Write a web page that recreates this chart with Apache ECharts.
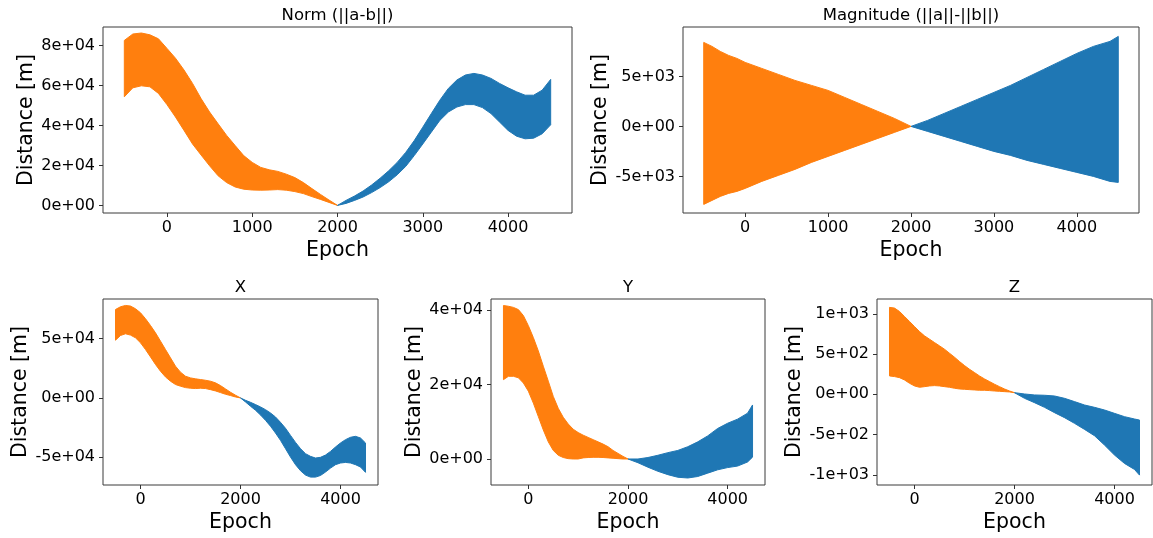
<!DOCTYPE html>
<html>
<head>
<meta charset="utf-8">
<script src="https://cdn.jsdelivr.net/npm/echarts@6/dist/echarts.min.js"></script>
<style>
  html, body { margin: 0; padding: 0; background: #fff; }
  #chart { width: 1153px; height: 538px; }
</style>
</head>
<body>
<div id="chart"></div>
<script>
// Difference between two ephemerides over epochs -500 .. 4500.
// Each quantity oscillates quickly, so it is drawn as an envelope band
// (upper / lower extent) for the past (orange) and future (blue) halves.

// ---- Norm (||a-b||) ----
const normEpochPast   = [-500,-400,-300,-200,-100,0,100,200,300,400,500,600,700,800,900,1000,1100,1200,1300,1400,1500,1600,1700,1800,1900,2000];
const normUpperPast   = [82500,85700,86200,85300,83300,78500,73600,67700,61000,53400,46700,40800,35000,29900,24900,21500,19000,17800,17000,15600,13900,11400,8400,5500,2700,0];
const normLowerPast   = [54300,58800,59800,59300,56000,50400,44200,37500,30700,25200,19800,14800,11400,9200,8100,7700,7600,7700,7900,7600,6900,5900,4400,3000,1500,0];
const normEpochFuture = [2000,2100,2200,2300,2400,2500,2600,2700,2800,2900,3000,3100,3200,3300,3400,3500,3600,3700,3800,3900,4000,4100,4200,4300,4400,4500];
const normUpperFuture = [0,2500,4700,7200,10200,13600,17300,21500,26500,32400,39100,45900,52600,58500,62700,65200,66000,65200,63500,61000,58800,56800,55100,55100,57600,63000];
const normLowerFuture = [0,1000,2500,4200,6400,8900,11800,15300,19500,24900,30700,36600,42500,46700,49200,50400,50400,48900,45900,41700,37500,34600,33300,33600,35800,40300];

// ---- Magnitude (||a||-||b||) ----
const magEpochPast   = [-500,-400,-300,-200,-100,0,200,400,600,800,1000,1200,1400,1600,1800,2000];
const magUpperPast   = [8400,8000,7500,7100,6800,6400,5800,5200,4600,4100,3600,2900,2200,1500,800,0];
const magLowerPast   = [-7800,-7400,-7000,-6700,-6500,-6200,-5500,-4900,-4300,-3600,-3000,-2400,-1800,-1200,-600,0];
const magEpochFuture = [2000,2200,2400,2600,2800,3000,3200,3400,3600,3800,4000,4200,4400,4500];
const magUpperFuture = [0,600,1300,2000,2700,3400,4100,4900,5700,6500,7300,8000,8500,9000];
const magLowerFuture = [0,-500,-1000,-1500,-2000,-2500,-2900,-3400,-3800,-4200,-4600,-5000,-5500,-5600];

// ---- X ----
const xEpochPast   = [-500,-400,-300,-200,-100,0,100,200,300,400,500,600,700,800,900,1000,1100,1200,1300,1400,1500,1600,1700,1800,1900,2000];
const xUpperPast   = [74600,76900,78000,77500,75200,71800,66800,61100,54900,47900,40800,33800,26800,21700,18300,16900,16100,15500,14900,14100,12700,10400,7600,4800,2300,0];
const xLowerPast   = [48700,52700,54100,53000,50700,46500,40800,34600,28200,22500,17700,14100,11300,9900,8700,8200,7900,8200,7900,7000,5900,4500,3100,2000,800,0];
const xEpochFuture = [2000,2100,2200,2300,2400,2500,2600,2700,2800,2900,3000,3100,3200,3300,3400,3500,3600,3700,3800,3900,4000,4100,4200,4300,4400,4500];
const xUpperFuture = [0,-2000,-3700,-5600,-7600,-9900,-12700,-16100,-20600,-25600,-31600,-37500,-42800,-47000,-49300,-50700,-50100,-48200,-45100,-41400,-38000,-35200,-33200,-32400,-33800,-38000];
const xLowerFuture = [0,-3400,-7000,-10400,-14400,-18900,-23900,-29600,-35800,-42800,-49900,-56300,-61400,-65100,-66800,-66800,-65400,-62500,-59200,-56300,-54900,-54400,-54900,-56300,-58300,-62800];

// ---- Y ----
const yEpochPast   = [-500,-400,-300,-200,-100,0,100,200,300,400,500,600,700,800,900,1000,1100,1200,1300,1400,1500,1600,1700,1800,1900,2000];
const yUpperPast   = [41200,41000,40700,40100,38500,35800,32600,29000,24900,20900,16800,13600,11200,9400,8000,7100,6400,5800,5200,4600,4000,3300,2300,1500,700,0];
const yLowerPast   = [21300,22200,22200,21800,20400,18200,15000,11400,7800,4600,2300,1000,400,100,0,0,300,400,450,450,400,300,200,100,0,0];
const yEpochFuture = [2000,2200,2400,2600,2800,3000,3200,3400,3600,3800,4000,4200,4400,4500];
const yUpperFuture = [0,0,400,1000,1700,2300,3300,4600,6200,8200,9600,10700,12300,14500];
const yLowerFuture = [0,-1000,-2200,-3300,-4200,-4900,-5100,-4700,-3800,-2900,-2300,-1900,-800,500];

// ---- Z ----
const zEpochPast   = [-500,-400,-300,-200,-100,0,100,200,300,400,500,600,700,800,900,1000,1100,1200,1300,1400,1500,1600,1700,1800,1900,2000];
const zUpperPast   = [1080,1071,1029,967,905,842,780,726,685,643,602,560,510,461,407,357,311,270,228,191,158,125,95,66,41,20];
const zLowerPast   = [228,220,207,178,137,104,87,95,104,108,104,95,87,75,66,62,58,54,50,50,46,41,37,33,29,20];
const zEpochFuture = [2000,2200,2400,2600,2800,3000,3200,3400,3600,3800,4000,4200,4400,4500];
const zUpperFuture = [20,4,-8,-12,-21,-50,-91,-133,-162,-195,-237,-278,-307,-320];
const zLowerFuture = [20,-50,-104,-162,-228,-290,-361,-436,-515,-631,-755,-859,-934,-1004];

// ---- axes ----
const xTicksTop    = [0, 1000, 2000, 3000, 4000];
const xTicksBottom = [0, 2000, 4000];
const normTicks = [0, 20000, 40000, 60000, 80000];
const magTicks  = [-5000, 0, 5000];
const xCompTicks = [-50000, 0, 50000];
const yCompTicks = [0, 20000, 40000];
const zCompTicks = [-1000, -500, 0, 500, 1000];
const panelTitles = ['Norm (||a-b||)', 'Magnitude (||a||-||b||)', 'X', 'Y', 'Z'];

const ORANGE = '#ff7f0e';
const BLUE = '#1f77b4';
const FONT = '"DejaVu Sans", "Liberation Sans", sans-serif';

// matplotlib-like scientific tick text, e.g. 8e+04, -5e+03
function sci(v) {
  if (v === 0) return '0e+00';
  const m = v.toExponential(0).match(/^(-?\d)e([+-])(\d+)$/);
  return m[1] + 'e' + m[2] + m[3].padStart(2, '0');
}

const panels = [
  { grid: { left: 103, top: 27,  width: 469, height: 186 }, yMin: -3800,  yMax: 89200, yTicks: normTicks,  xTicks: xTicksTop,
    bands: [[normEpochPast, normUpperPast, normLowerPast, ORANGE], [normEpochFuture, normUpperFuture, normLowerFuture, BLUE]] },
  { grid: { left: 683, top: 27,  width: 456, height: 186 }, yMin: -8660,  yMax: 9940,  yTicks: magTicks,   xTicks: xTicksTop,
    bands: [[magEpochPast, magUpperPast, magLowerPast, ORANGE], [magEpochFuture, magUpperFuture, magLowerFuture, BLUE]] },
  { grid: { left: 103, top: 299, width: 275, height: 186 }, yMin: -73450, yMax: 83450, yTicks: xCompTicks, xTicks: xTicksBottom,
    bands: [[xEpochPast, xUpperPast, xLowerPast, ORANGE], [xEpochFuture, xUpperFuture, xLowerFuture, BLUE]] },
  { grid: { left: 491, top: 299, width: 274, height: 186 }, yMin: -6980,  yMax: 42950, yTicks: yCompTicks, xTicks: xTicksBottom,
    bands: [[yEpochPast, yUpperPast, yLowerPast, ORANGE], [yEpochFuture, yUpperFuture, yLowerFuture, BLUE]] },
  { grid: { left: 877, top: 299, width: 275, height: 186 }, yMin: -1127,  yMax: 1184,  yTicks: zCompTicks, xTicks: xTicksBottom,
    bands: [[zEpochPast, zUpperPast, zLowerPast, ORANGE], [zEpochFuture, zUpperFuture, zLowerFuture, BLUE]] }
];

// One filled polygon per band: upper edge left to right, lower edge back.
function bandRenderer(epochs, upper, lower, color) {
  return function (params, api) {
    if (params.dataIndex !== 0) return null;
    const pts = [];
    for (let i = 0; i < epochs.length; i++) pts.push(api.coord([epochs[i], upper[i]]));
    for (let i = epochs.length - 1; i >= 0; i--) pts.push(api.coord([epochs[i], lower[i]]));
    return { type: 'polygon', shape: { points: pts }, style: { fill: color, stroke: color, lineWidth: 1 } };
  };
}

const grid = [], xAxis = [], yAxis = [], series = [], graphic = [];
panels.forEach((p, k) => {
  grid.push(Object.assign({ show: true, borderColor: '#3a3a3a', borderWidth: 1, backgroundColor: '#fff' }, p.grid));
  xAxis.push({
    type: 'value', gridIndex: k, min: -750, max: 4750,
    name: 'Epoch', nameLocation: 'middle', nameGap: 27,
    nameTextStyle: { fontSize: 20.5, color: '#000', fontFamily: FONT },
    axisLine: { show: false, onZero: false },
    axisTick: { show: true, length: 4, lineStyle: { color: '#333' }, customValues: p.xTicks },
    axisLabel: { color: '#000', fontSize: 16, fontFamily: FONT, margin: 7, customValues: p.xTicks, formatter: v => String(v) },
    splitLine: { show: false }
  });
  yAxis.push({
    type: 'value', gridIndex: k, min: p.yMin, max: p.yMax,
    name: 'Distance [m]', nameLocation: 'middle', nameGap: 64,
    nameTextStyle: { fontSize: 20.5, color: '#000', fontFamily: FONT },
    axisLine: { show: false, onZero: false },
    axisTick: { show: true, length: 4, lineStyle: { color: '#333' }, customValues: p.yTicks },
    axisLabel: { color: '#000', fontSize: 16, fontFamily: FONT, margin: 8, customValues: p.yTicks, formatter: sci },
    splitLine: { show: false }
  });
  p.bands.forEach(([ep, up, lo, color]) => {
    series.push({
      type: 'custom', xAxisIndex: k, yAxisIndex: k, silent: true,
      renderItem: bandRenderer(ep, up, lo, color),
      data: ep.map((e, i) => [e, up[i], lo[i]]),
      encode: { x: 0, y: [1, 2] }
    });
  });
  graphic.push({
    type: 'text',
    x: p.grid.left + p.grid.width / 2,
    y: k < 2 ? 16 : 288,
    style: { text: panelTitles[k], fill: '#000', fontSize: 16.5, fontFamily: FONT, align: 'center', verticalAlign: 'middle' }
  });
});

const chart = echarts.init(document.getElementById('chart'), null, { renderer: 'canvas' });
chart.setOption({ animation: false, backgroundColor: '#fff', grid, xAxis, yAxis, series, graphic });
</script>
</body>
</html>
